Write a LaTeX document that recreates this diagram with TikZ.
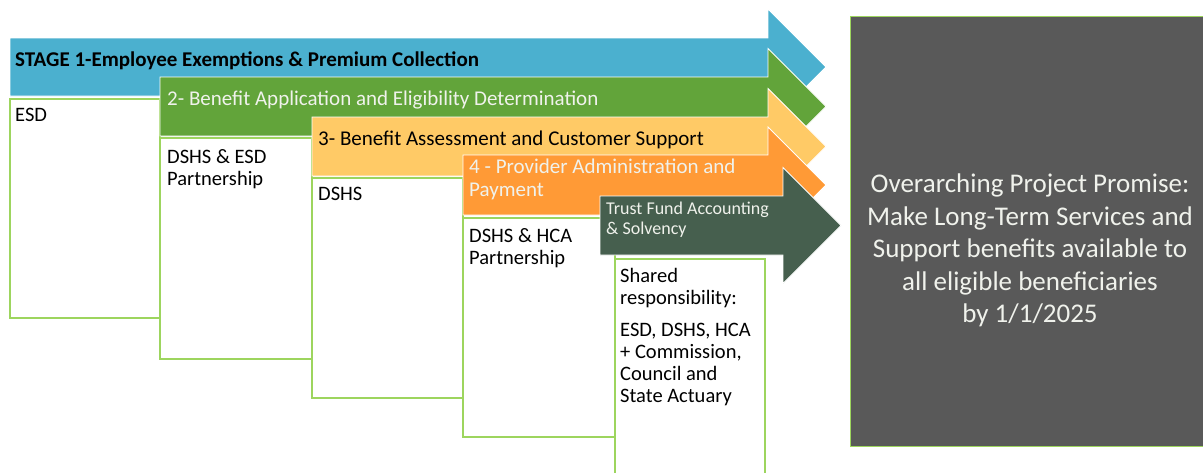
\documentclass[tikz,border=0pt]{standalone}
\usepackage{fontspec}
\setmainfont{Carlito}
\definecolor{stageblue}{HTML}{4BB0CF}
\definecolor{stagegreen}{HTML}{62A43A}
\definecolor{stageyellow}{HTML}{FFCA66}
\definecolor{stageorange}{HTML}{FF9A36}
\definecolor{trustgreen}{HTML}{465F4E}
\definecolor{promisegray}{HTML}{595959}
\definecolor{boxline}{HTML}{9DD55E}
\definecolor{lighttext}{HTML}{F0F2EC}
\def\stagearrow[#1](#2,#3,#4)(#5){\draw[#1] (#2,#3) -- (#5,#3) -- (#5,{(#3+#4)/2-58}) -- ({#5+58},{(#3+#4)/2}) -- (#5,{(#3+#4)/2+58}) -- (#5,#4) -- (#2,#4) -- cycle;}
\tikzset{
  arrowpart/.style={draw=white, line width=0.8pt},
  ownerbox/.style={draw=boxline, line width=1.3pt, fill=white},
  stagetext/.style={anchor=north west, inner sep=0pt, align=left, font=\fontsize{21}{23}\selectfont},
  ownertext/.style={anchor=north west, inner sep=0pt, align=left, font=\fontsize{20.5}{22}\selectfont}
}
\begin{document}
\begin{tikzpicture}[x=1pt, y=-1pt]
			%%%%% START %%%%%
			\useasboundingbox (0,0) rectangle (1203,472);
			
			\stagearrow[arrowpart, fill=stageblue](10,38,96)(768);
			\draw[ownerbox] (10,99) rectangle (160,318);
			
			\stagearrow[arrowpart, fill=stagegreen](160,77,136)(768);
			\draw[ownerbox] (160,138) rectangle (312,359);
			
			\stagearrow[arrowpart, fill=stageyellow](312,117,176)(768);
			\draw[ownerbox] (312,178) rectangle (463,398);
			
			\stagearrow[arrowpart, fill=stageorange](463,155,215)(768);
			\draw[ownerbox] (463,218) rectangle (615,437);
			
			\stagearrow[arrowpart, fill=trustgreen](600,196,255)(783);
			\draw[ownerbox] (615,259) rectangle (765,490);
			
			\draw[fill=promisegray, draw=boxline, line width=0.8pt] (850,16) rectangle (1210,446);
			
			\node[stagetext, font=\fontsize{21}{23}\selectfont\bfseries] (stageone) at (15,52) {STAGE 1-Employee Exemptions \& Premium Collection};
			\node[stagetext, text=lighttext] (stagetwo) at (167,91) {2- Benefit Application and Eligibility Determination};
			\node[stagetext] (stagethree) at (318,131) {3- Benefit Assessment and Customer Support};
			\node[stagetext, text=lighttext] (stagefour) at (469,159) {4 - Provider Administration and\\Payment};
			\node[stagetext, text=lighttext, font=\fontsize{18}{20}\selectfont] (trustfund) at (606,202) {Trust Fund Accounting\\\& Solvency};
			
			\node[ownertext] (esd) at (15,108) {ESD};
			\node[ownertext] (dshsesd) at (167,149) {DSHS \& ESD\\Partnership};
			\node[ownertext] (dshs) at (318,187) {DSHS};
			\node[ownertext] (dshshca) at (469,228) {DSHS \& HCA\\Partnership};
			\node[ownertext] (shared) at (620,268) {Shared\\responsibility:\\[10pt]ESD, DSHS, HCA\\+ Commission,\\Council and\\State Actuary};
			
			\node[anchor=north, inner sep=0pt, align=center, text=lighttext, font=\fontsize{27}{32.5}\selectfont] (promise) at (1030,174) {Overarching Project Promise:\\Make Long-Term Services and\\Support benefits available to\\all eligible beneficiaries\\by 1/1/2025};
			
			%%%%% END %%%%%
\end{tikzpicture}
\end{document}
